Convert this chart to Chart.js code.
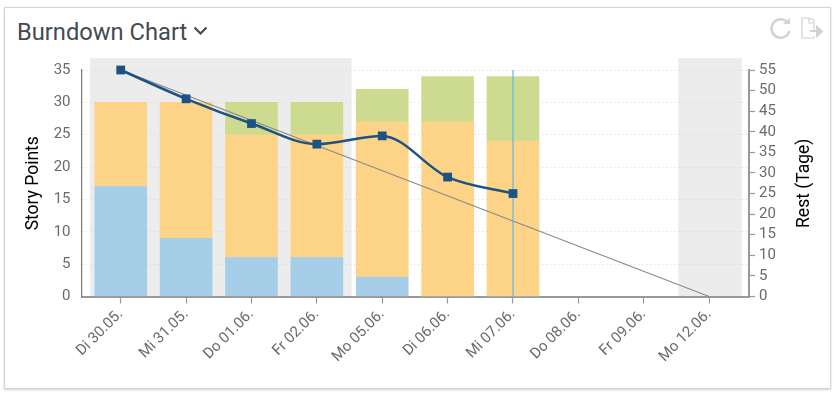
<!DOCTYPE html>
<html lang="de">
<head>
<meta charset="utf-8">
<title>Burndown Chart</title>
<script src="https://cdn.jsdelivr.net/npm/chart.js@4"></script>
<style>
    html, body { margin: 0; padding: 0; background: #fff; }
    body { width: 835px; height: 393px; position: relative; overflow: hidden; font-family: Roboto, sans-serif; }
    .card {
        position: absolute; left: 4px; top: 7px; width: 825px; height: 380px;
        border: 1px solid #d4d4d4; box-shadow: 0 1px 2px rgba(0, 0, 0, 0.18); background: #fff;
    }
    .title {
        position: absolute; left: 17px; top: 17px; margin: 0;
        font-size: 23.7px; line-height: 30px; font-weight: 400; color: #444a50;
    }
    .chevron { position: absolute; left: 193px; top: 26px; }
    .icons { position: absolute; left: 769px; top: 17px; }
    #chart-wrap { position: absolute; left: 0; top: 0; width: 835px; height: 393px; }
</style>
</head>
<body>
<div class="card"></div>
<h1 class="title">Burndown Chart</h1>
<svg class="chevron" width="15" height="10" viewBox="0 0 15 10"><path d="M1.5 1.5 L7.5 7.5 L13.5 1.5" fill="none" stroke="#444a50" stroke-width="2.2"/></svg>
<svg class="icons" width="56" height="24" viewBox="0 0 56 24" fill="none" stroke="#d2d2d2" stroke-width="2.4">
    <path d="M19 6 A9.2 9.2 0 1 0 20.5 14"/>
    <path d="M14 7 L21 7 L21 1 Z" fill="#d2d2d2" stroke="none"/>
    <path d="M45 13 V3 L40 1 H33 V21 H45 V19" stroke-width="1.2"/>
    <path d="M40 1 V6 H45" stroke-width="1.2"/>
    <path d="M41 14 H49 M48 10 L53 14.5 L48 19 Z" fill="#d2d2d2" stroke-width="2"/>
</svg>
<div id="chart-wrap"><canvas id="burndown"></canvas></div>
<script>
const days = ['Di 30.05.', 'Mi 31.05.', 'Do 01.06.', 'Fr 02.06.', 'Mo 05.06.', 'Di 06.06.', 'Mi 07.06.', 'Do 08.06.', 'Fr 09.06.', 'Mo 12.06.'];
const donePoints = [17, 9, 6, 6, 3, 0, 0];
const openPoints = [13, 21, 19, 19, 24, 27, 24];
const newPoints = [0, 0, 5, 5, 5, 7, 10];
const restDays = [55, 48, 42, 37, 39, 29, 25];
const idealDays = [55, 0];
const idealIndex = [0, 9];
const currentIndex = 6;
const weekendBands = [[-0.47, 3.53], [8.53, 9.5]];

const toXY = (values) => values.map((y, x) => ({ x, y }));

/* Grey bands stick out 12px above the plot, so they are painted before the scales. */
const bandsPlugin = {
    id: 'bands',
    beforeDraw(chart) {
        const { ctx, chartArea, scales } = chart;
        ctx.save();
        ctx.fillStyle = '#ececec';
        weekendBands.forEach(([from, to]) => {
            const left = scales.x.getPixelForValue(from);
            const right = scales.x.getPixelForValue(to);
            ctx.fillRect(left, chartArea.top - 12, right - left, chartArea.bottom - chartArea.top + 12);
        });
        ctx.restore();
    },
};

/* Chart.js turns a right axis title the other way round, this one reads bottom to top. */
const rightTitlePlugin = {
    id: 'rightTitle',
    afterDraw(chart) {
        const { ctx, chartArea } = chart;
        ctx.save();
        ctx.translate(805, (chartArea.top + chartArea.bottom) / 2);
        ctx.rotate(-Math.PI / 2);
        ctx.font = '17.5px Roboto';
        ctx.fillStyle = '#000';
        ctx.textAlign = 'center';
        ctx.textBaseline = 'middle';
        ctx.fillText('Rest (Tage)', 0, 0);
        ctx.restore();
    },
};

new Chart(document.getElementById('burndown'), {
    data: {
        datasets: [
            {
                type: 'line', data: toXY(restDays), yAxisID: 'yRest', order: 0, clip: false,
                borderColor: '#1c5384', borderWidth: 2.5, cubicInterpolationMode: 'monotone',
                pointStyle: 'rect', pointRadius: 6.2, pointBackgroundColor: '#1c5384', pointBorderWidth: 0,
            },
            {
                type: 'line', data: [{ x: currentIndex, y: 0 }, { x: currentIndex, y: 35 }], yAxisID: 'y', order: 1,
                borderColor: '#62b5ea', borderWidth: 1.2, pointRadius: 0,
            },
            {
                type: 'line', data: idealIndex.map((x, i) => ({ x, y: idealDays[i] })), yAxisID: 'yRest', order: 2, clip: false,
                borderColor: '#8a8a8a', borderWidth: 1.2, pointRadius: 0,
            },
            { type: 'bar', data: toXY(donePoints), yAxisID: 'y', order: 3, backgroundColor: '#a6cee9', barThickness: 52 },
            { type: 'bar', data: toXY(openPoints), yAxisID: 'y', order: 3, backgroundColor: '#fdd387', barThickness: 52 },
            { type: 'bar', data: toXY(newPoints), yAxisID: 'y', order: 3, backgroundColor: '#cddb90', barThickness: 52 },
        ],
    },
    plugins: [bandsPlugin, rightTitlePlugin],
    options: {
        responsive: true,
        maintainAspectRatio: false,
        animation: false,
        layout: { autoPadding: false, padding: { top: 70 } },
        plugins: { legend: { display: false }, tooltip: { enabled: false } },
        scales: {
            x: {
                type: 'linear',
                stacked: true,
                offset: false,
                min: -0.6,
                max: 9.61,
                afterBuildTicks: (scale) => { scale.ticks = days.map((_, value) => ({ value })); },
                afterFit: (scale) => { scale.height = 96.5; },
                border: { color: '#999', width: 2 },
                grid: { offset: false, drawOnChartArea: false, color: '#999', tickLength: 7, tickWidth: 1.2 },
                ticks: {
                    autoSkip: false, maxRotation: 45, minRotation: 45, align: 'end', padding: 2,
                    color: '#6a6a6a', font: { family: 'Roboto', size: 15 },
                    callback: (value, index) => days[index],
                },
            },
            y: {
                position: 'left',
                stacked: true,
                min: 0,
                max: 35,
                afterFit: (scale) => { scale.width = 81.5; },
                border: { color: '#777', width: 1.2, dash: [1, 3] },
                grid: { color: '#d4d4d4', drawTicks: false, lineWidth: 1 },
                ticks: { autoSkip: false, stepSize: 5, padding: 11, color: '#6a6a6a', font: { family: 'Roboto', size: 15 } },
                title: { display: true, text: 'Story Points', color: '#000', font: { family: 'Roboto', size: 17.5 }, padding: { top: 23, bottom: 0 } },
            },
            yRest: {
                position: 'right',
                min: 0,
                max: 55,
                afterFit: (scale) => { scale.width = 86; },
                border: { color: '#999', width: 2 },
                grid: { drawOnChartArea: false, color: '#999', tickLength: 6, tickWidth: 1.2 },
                ticks: { autoSkip: false, stepSize: 5, padding: 4, color: '#6a6a6a', font: { family: 'Roboto', size: 15 } },
            },
        },
    },
});
</script>
</body>
</html>
